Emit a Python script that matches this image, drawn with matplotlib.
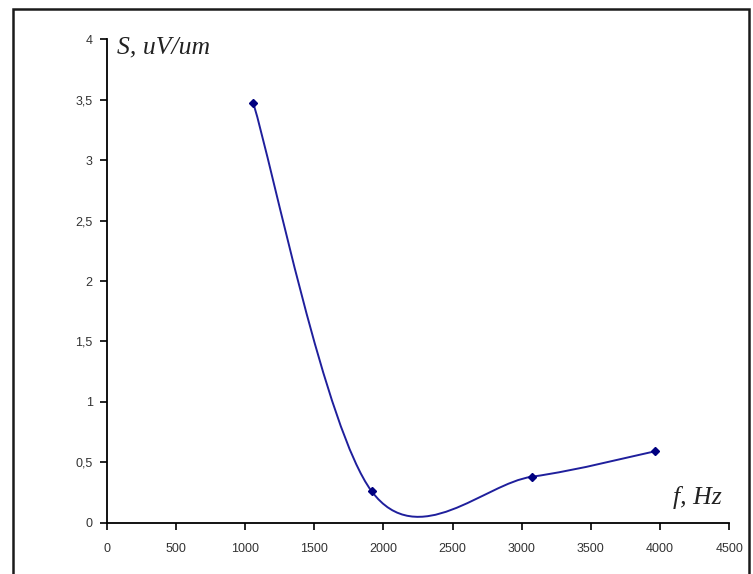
# -*- coding: utf-8 -*-
# Sensitivity S versus frequency f, smoothed line like a spreadsheet chart

# I M P O R T ##########################################################################################################
import numpy as np
import matplotlib
matplotlib.use("Agg")
import matplotlib.pyplot as plt
from matplotlib.path import Path
from matplotlib.patches import PathPatch, Rectangle
from matplotlib.ticker import MultipleLocator, FuncFormatter


# D A T A ##############################################################################################################
freq_hz      = [1060, 1915, 3072, 3960]
sens_uv_um   = [3.47, 0.26, 0.38, 0.59]

x_label      = "f, Hz"
y_label      = "S, uV/um"

LINE_COLOR   = "#1f1f9c"
MARK_COLOR   = "#000080"


#---------------------------------------------------------------------------------------------------------------------
# @brief Build a smoothed path (Catmull-Rom style bezier, same as spreadsheet "smoothed line").
#---------------------------------------------------------------------------------------------------------------------
def smooth_path(xs, ys):
  pts   = np.column_stack([xs, ys]).astype(float)
  n     = len(pts)
  verts = [pts[0]]
  codes = [Path.MOVETO]

  for i in range(n - 1):
    p_prev = pts[i - 1] if i > 0 else pts[i]
    p_next = pts[i + 2] if i + 2 < n else pts[i + 1]
    c1 = pts[i] + (pts[i + 1] - p_prev) / 6.0
    c2 = pts[i + 1] - (p_next - pts[i]) / 6.0
    verts += [c1, c2, pts[i + 1]]
    codes += [Path.CURVE4] * 3

  return Path(verts, codes)


#---------------------------------------------------------------------------------------------------------------------
# @brief Main function.
#---------------------------------------------------------------------------------------------------------------------
def main():
  plt.rcParams['font.family'] = ['Liberation Sans', 'DejaVu Sans']

  fig = plt.figure(figsize=(7.53, 5.74), dpi=100)
  ax  = fig.add_axes([0.1417, 0.0894, 0.8268, 0.8421])

  # outer chart border
  fig.patches.append(Rectangle((12.7 / 753, -0.05), (749.3 - 12.7) / 753, 1.05 - 9.3 / 574,
                               transform=fig.transFigure, fill=False, edgecolor="#1a1a1a",
                               linewidth=1.8, clip_on=False))

  # smoothed curve + markers
  ax.add_patch(PathPatch(smooth_path(freq_hz, sens_uv_um), facecolor="none",
                         edgecolor=LINE_COLOR, linewidth=1.4))
  ax.plot(freq_hz, sens_uv_um, linestyle="none", marker="D", markersize=4.5,
          color=MARK_COLOR)

  ax.set_xlim(0, 4500)
  ax.set_ylim(0, 4)
  ax.xaxis.set_major_locator(MultipleLocator(500))
  ax.yaxis.set_major_locator(MultipleLocator(0.5))
  ax.yaxis.set_major_formatter(FuncFormatter(lambda v, p: ("%g" % v).replace(".", ",")))

  for side in ("top", "right"):
    ax.spines[side].set_visible(False)
  for side in ("left", "bottom"):
    ax.spines[side].set_linewidth(1.3)
    ax.spines[side].set_color("black")

  ax.tick_params(axis="x", direction="out", length=5, width=1.2, labelsize=9, pad=9.5,
                 labelcolor="#333333")
  ax.tick_params(axis="y", direction="out", length=5, width=1.2, labelsize=9, pad=5,
                 labelcolor="#333333")

  ax.text(0.0165, 0.984, y_label, transform=ax.transAxes, ha="left", va="center",
          fontsize=18.5, fontstyle="italic", family="Liberation Serif", color="#222222")
  ax.text(0.9096, 0.053, x_label, transform=ax.transAxes, ha="left", va="center",
          fontsize=18.5, fontstyle="italic", family="Liberation Serif", color="#222222")

  fig.savefig("out.png", dpi=100)


#---------------------------------------------------------------------------------------------------------------------
if __name__ == "__main__":
    main()
